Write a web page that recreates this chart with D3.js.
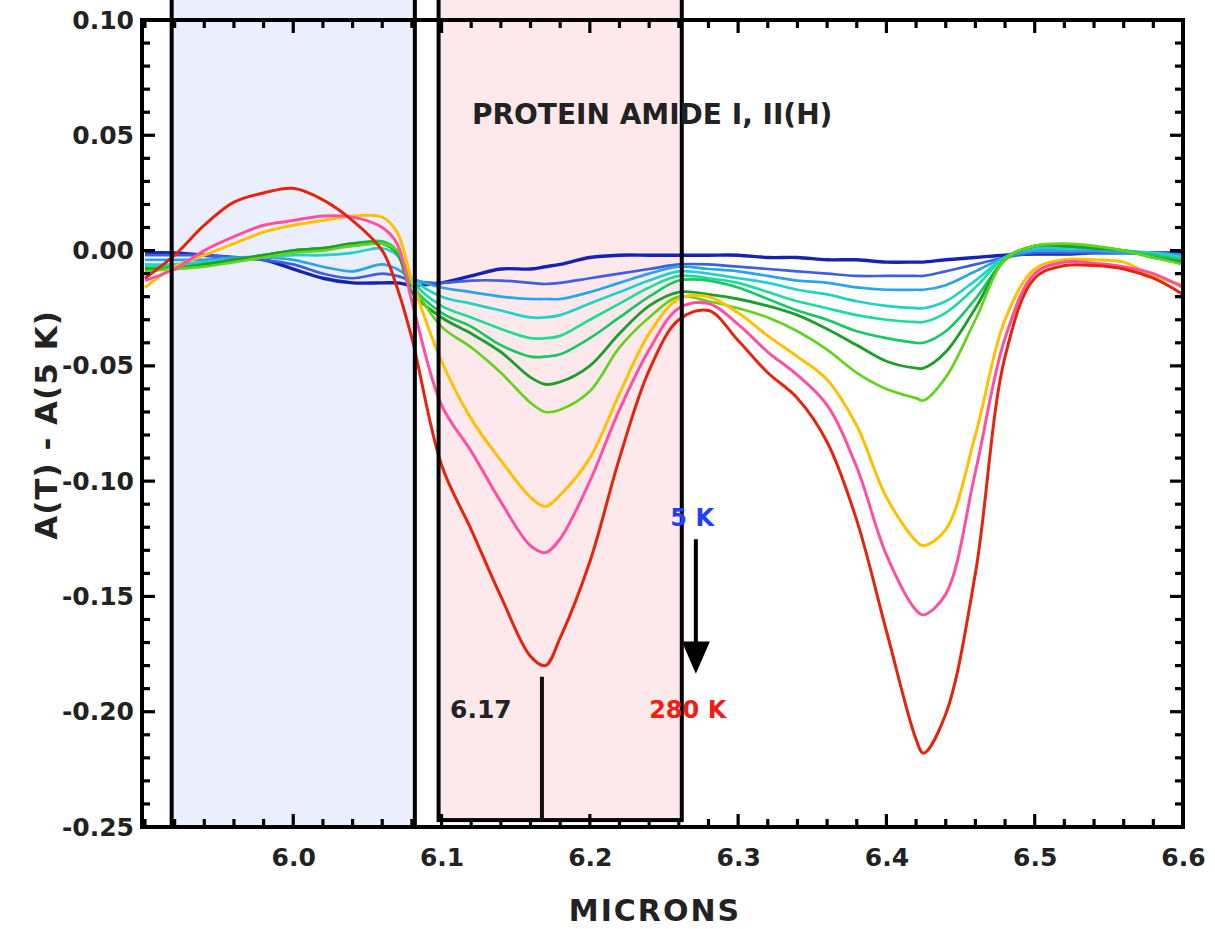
<!DOCTYPE html>
<html><head><meta charset="utf-8">
<script src="https://cdn.jsdelivr.net/npm/d3@7"></script>
<style>body{margin:0;background:#fff}text{font-family:"DejaVu Sans",sans-serif}</style>
</head><body><svg id="c" width="1215" height="929"></svg>
<script>
// ---- data ----
const wavelength = [5.90,5.92,5.94,5.96,5.98,6.00,6.02,6.04,6.06,6.07,6.08,6.10,6.12,6.14,6.16,6.17,6.18,6.20,6.22,6.24,6.26,6.28,6.30,6.32,6.34,6.36,6.38,6.40,6.42,6.425,6.44,6.46,6.48,6.50,6.52,6.54,6.56,6.58,6.60];

const s01 = [-0.001,-0.001,-0.002,-0.003,-0.004,-0.008,-0.012,-0.014,-0.014,-0.014,-0.015,-0.014,-0.011,-0.008,-0.008,-0.007,-0.006,-0.003,-0.002,-0.002,-0.002,-0.002,-0.002,-0.003,-0.003,-0.004,-0.004,-0.005,-0.005,-0.005,-0.004,-0.003,-0.002,-0.0015,-0.0015,-0.001,-0.001,-0.001,-0.001];
const s02 = [-0.002,-0.002,-0.002,-0.003,-0.004,-0.006,-0.010,-0.012,-0.010,-0.011,-0.013,-0.014,-0.013,-0.013,-0.014,-0.0145,-0.014,-0.012,-0.010,-0.008,-0.006,-0.006,-0.007,-0.008,-0.009,-0.010,-0.011,-0.011,-0.011,-0.011,-0.009,-0.006,-0.003,-0.001,-0.001,-0.001,-0.001,-0.001,-0.002];
const s03 = [-0.004,-0.004,-0.004,-0.003,-0.003,-0.004,-0.007,-0.009,-0.006,-0.008,-0.012,-0.016,-0.018,-0.020,-0.021,-0.021,-0.021,-0.018,-0.014,-0.010,-0.007,-0.008,-0.009,-0.011,-0.013,-0.014,-0.016,-0.017,-0.017,-0.017,-0.015,-0.009,-0.003,0.000,0.000,0.000,-0.001,-0.001,-0.002];
const s04 = [-0.006,-0.006,-0.005,-0.004,-0.003,-0.002,-0.002,-0.001,0.001,-0.002,-0.012,-0.020,-0.023,-0.026,-0.029,-0.029,-0.028,-0.023,-0.018,-0.013,-0.009,-0.010,-0.012,-0.014,-0.017,-0.019,-0.022,-0.024,-0.025,-0.025,-0.022,-0.013,-0.003,0.001,0.001,0.001,0.000,-0.001,-0.003];
const s05 = [-0.007,-0.007,-0.006,-0.004,-0.002,0.000,0.001,0.002,0.003,0.000,-0.013,-0.024,-0.029,-0.034,-0.038,-0.038,-0.037,-0.030,-0.023,-0.016,-0.011,-0.012,-0.014,-0.018,-0.022,-0.025,-0.028,-0.030,-0.031,-0.031,-0.027,-0.016,-0.003,0.002,0.002,0.001,0.000,-0.002,-0.004];
const s06 = [-0.008,-0.007,-0.006,-0.004,-0.002,0.000,0.001,0.003,0.004,0.000,-0.015,-0.027,-0.033,-0.041,-0.046,-0.046,-0.045,-0.038,-0.029,-0.020,-0.013,-0.013,-0.016,-0.021,-0.026,-0.030,-0.035,-0.038,-0.040,-0.040,-0.035,-0.021,-0.004,0.002,0.002,0.001,0.000,-0.002,-0.004];
const s07 = [-0.008,-0.008,-0.006,-0.004,-0.002,0.000,0.001,0.003,0.003,-0.001,-0.018,-0.029,-0.036,-0.044,-0.055,-0.058,-0.057,-0.050,-0.036,-0.024,-0.018,-0.019,-0.021,-0.024,-0.028,-0.034,-0.041,-0.048,-0.051,-0.051,-0.044,-0.025,-0.004,0.002,0.002,0.001,0.000,-0.003,-0.005];
const s08 = [-0.009,-0.008,-0.007,-0.005,-0.003,-0.001,0.000,0.002,0.003,0.000,-0.014,-0.033,-0.042,-0.053,-0.066,-0.070,-0.069,-0.061,-0.042,-0.029,-0.020,-0.022,-0.025,-0.029,-0.035,-0.043,-0.053,-0.060,-0.064,-0.065,-0.055,-0.030,-0.004,0.002,0.003,0.002,0.000,-0.003,-0.006];
const s09 = [-0.016,-0.007,-0.002,0.003,0.008,0.011,0.013,0.015,0.0145,0.008,-0.013,-0.048,-0.073,-0.091,-0.107,-0.111,-0.106,-0.090,-0.062,-0.036,-0.021,-0.020,-0.027,-0.037,-0.046,-0.056,-0.076,-0.107,-0.126,-0.128,-0.121,-0.080,-0.030,-0.008,-0.004,-0.004,-0.005,-0.011,-0.015];
const s10 = [-0.013,-0.008,0.000,0.006,0.011,0.013,0.015,0.0145,0.010,0.003,-0.022,-0.067,-0.087,-0.109,-0.128,-0.131,-0.125,-0.100,-0.069,-0.043,-0.025,-0.023,-0.032,-0.044,-0.054,-0.067,-0.094,-0.132,-0.156,-0.158,-0.149,-0.096,-0.038,-0.010,-0.005,-0.0055,-0.007,-0.010,-0.016];
const s11 = [-0.012,-0.002,0.011,0.021,0.025,0.027,0.022,0.013,0.000,-0.016,-0.038,-0.093,-0.121,-0.150,-0.176,-0.180,-0.168,-0.135,-0.090,-0.052,-0.030,-0.026,-0.039,-0.053,-0.064,-0.083,-0.117,-0.165,-0.212,-0.218,-0.201,-0.140,-0.046,-0.012,-0.0065,-0.0065,-0.008,-0.012,-0.019];

const seriesValues = [s01,s02,s03,s04,s05,s06,s07,s08,s09,s10,s11];
const seriesColors = ["#1623b0","#3d5fe0","#2aa4ea","#22d2c8","#20dc9c","#18c864","#1f9e2c","#62d41e","#ffc000","#ff4fa3","#e6240c"];
const seriesWidths = [3.4,2.7,2.7,2.7,2.7,2.7,2.9,2.7,3,3,3];

const xTicks = [6.0,6.1,6.2,6.3,6.4,6.5,6.6];
const yTicks = [0.10,0.05,0.00,-0.05,-0.10,-0.15,-0.20,-0.25];
const xDomain = [5.898,6.6];
const yDomain = [-0.25,0.10];

const windows = [
  {x0:5.918, x1:6.082, yb:-0.25, fill:"#ebeefc"},
  {x0:6.098, x1:6.262, yb:-0.247, fill:"#fde8ec"}
];
const titleText = "PROTEIN AMIDE I, II(H)";
const peakPos = 6.1677;

// ---- drawing ----
const svg = d3.select("#c");
const L=142,R=1183,T=20,B=827;
const x = d3.scaleLinear().domain(xDomain).range([L,R]);
const y = d3.scaleLinear().domain(yDomain).range([B,T]);
const hy = s => s.replace("\u2212","-");

windows.forEach(w=>{
  svg.append("rect").attr("x",x(w.x0)).attr("y",-10).attr("width",x(w.x1)-x(w.x0))
     .attr("height",y(w.yb)+10).attr("fill",w.fill);
});

svg.append("clipPath").attr("id","clip").append("rect").attr("x",L).attr("y",T).attr("width",R-L).attr("height",B-T);

const line = d3.line().x(d=>x(d[0])).y(d=>y(d[1])).curve(d3.curveCatmullRom.alpha(0.5));
const g = svg.append("g").attr("clip-path","url(#clip)");
seriesValues.forEach((vals,i)=>{
  g.append("path").datum(wavelength.map((w,j)=>[w,vals[j]]))
    .attr("d",line).attr("fill","none").attr("stroke",seriesColors[i])
    .attr("stroke-width",seriesWidths[i]).attr("stroke-linejoin","round");
});

windows.forEach(w=>{
  svg.append("rect").attr("x",x(w.x0)).attr("y",-10).attr("width",x(w.x1)-x(w.x0))
     .attr("height",y(w.yb)+10).attr("fill","none").attr("stroke","#000").attr("stroke-width",4);
});

svg.append("rect").attr("x",L).attr("y",T).attr("width",R-L).attr("height",B-T)
   .attr("fill","none").attr("stroke","#000").attr("stroke-width",4);

const xMinor = d3.range(5.90,6.601,0.02);
const yMinor = d3.range(-0.25,0.1001,0.01);
function isMajor(v,arr){return arr.some(a=>Math.abs(a-v)<1e-6);}
const tg = svg.append("g").attr("stroke","#000").attr("stroke-width",3.2);
xMinor.forEach(v=>{
  const len = isMajor(v,xTicks)?13:8;
  tg.append("line").attr("x1",x(v)).attr("x2",x(v)).attr("y1",B).attr("y2",B-len);
  tg.append("line").attr("x1",x(v)).attr("x2",x(v)).attr("y1",T).attr("y2",T+len);
});
yMinor.forEach(v=>{
  const len = isMajor(v,yTicks)?13:8;
  tg.append("line").attr("y1",y(v)).attr("y2",y(v)).attr("x1",L).attr("x2",L+len);
  tg.append("line").attr("y1",y(v)).attr("y2",y(v)).attr("x1",R).attr("x2",R-len);
});

const xAxis = d3.axisBottom(x).tickValues(xTicks).tickFormat(d=>hy(d3.format(".1f")(d))).tickSize(0).tickPadding(21);
const xa = svg.append("g").attr("transform",`translate(0,${B})`).call(xAxis);
xa.select(".domain").remove();
xa.selectAll("text").attr("font-size",25).attr("font-weight","bold").attr("fill","#222").attr("font-family","DejaVu Sans");
const yAxis = d3.axisLeft(y).tickValues(yTicks).tickFormat(d=>hy(d3.format(".2f")(d))).tickSize(0).tickPadding(8);
const ya = svg.append("g").attr("transform",`translate(${L},0)`).call(yAxis);
ya.select(".domain").remove();
ya.selectAll("text").attr("font-size",25).attr("font-weight","bold").attr("fill","#222").attr("font-family","DejaVu Sans");

svg.append("text").attr("x",655).attr("y",921).attr("text-anchor","middle")
   .attr("font-size",30).attr("font-weight","bold").attr("letter-spacing",2).attr("fill","#222").text("MICRONS");
svg.append("text").attr("transform","translate(57,425) rotate(-90)").attr("text-anchor","middle")
   .attr("font-size",31).attr("font-weight","bold").attr("letter-spacing",1).attr("fill","#222").text("A(T) - A(5 K)");

svg.append("text").attr("x",x(6.1205)).attr("y",y(0.0548)).attr("font-size",28).attr("font-weight","bold")
   .attr("fill","#222").text(titleText);

svg.append("line").attr("x1",x(peakPos)).attr("x2",x(peakPos)).attr("y1",y(-0.1848)).attr("y2",y(-0.247))
   .attr("stroke","#111").attr("stroke-width",4);
svg.append("text").attr("x",x(6.1265)).attr("y",y(-0.2026)).attr("text-anchor","middle")
   .attr("font-size",25).attr("font-weight","bold").attr("fill","#222").text("6.17");

const ax = 6.2715;
svg.append("line").attr("x1",x(ax)).attr("x2",x(ax)).attr("y1",y(-0.1252)).attr("y2",y(-0.170))
   .attr("stroke","#000").attr("stroke-width",4);
svg.append("path").attr("d",`M${x(ax)-14},${y(-0.1696)} L${x(ax)+14},${y(-0.1696)} L${x(ax)},${y(-0.1835)} Z`).attr("fill","#000");
svg.append("text").attr("x",x(6.269)).attr("y",y(-0.1196)).attr("text-anchor","middle")
   .attr("font-size",24).attr("font-weight","bold").attr("fill","#2040ff").text("5 K");
svg.append("text").attr("x",x(6.266)).attr("y",y(-0.2026)).attr("text-anchor","middle")
   .attr("font-size",24).attr("font-weight","bold").attr("fill","#ee2010").text("280 K");
</script></body></html>
